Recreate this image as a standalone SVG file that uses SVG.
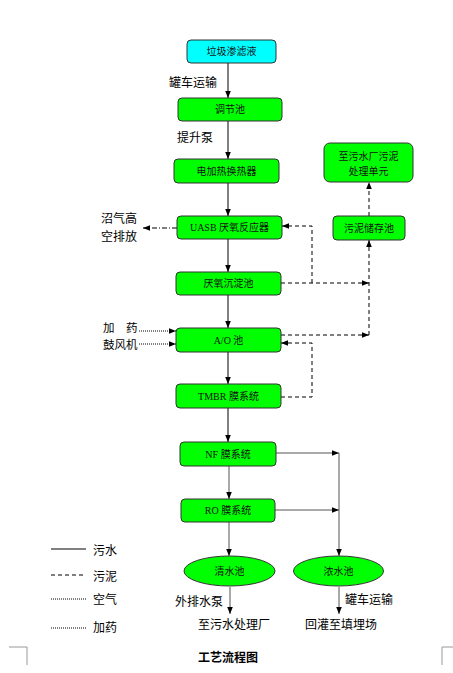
<svg xmlns="http://www.w3.org/2000/svg" width="453" height="673" viewBox="0 0 453 673">
<style>
.box{fill:#00FF00;stroke:#333;stroke-width:1}
.cy{fill:#00FFFF;stroke:#333;stroke-width:1}
.bt{font-family:"Liberation Serif","Noto Sans CJK SC",serif;font-size:10px;fill:#111;text-anchor:middle}
.lb{font-family:"Noto Sans CJK SC","Liberation Sans",sans-serif;font-size:12px;fill:#000}
.sm{font-size:11.5px}
.ttl{font-family:"Noto Sans CJK SC","Liberation Sans",sans-serif;font-size:12px;font-weight:bold;fill:#000}
.s{fill:none;stroke:#000;stroke-width:1}
.g{fill:none;stroke:#555;stroke-width:1}
.d{fill:none;stroke:#000;stroke-width:1;stroke-dasharray:4,3}
.dd{fill:none;stroke:#000;stroke-width:1;stroke-dasharray:5,2,1,2}
.dt{fill:none;stroke:#000;stroke-width:1;stroke-dasharray:1,1}
.corner{fill:none;stroke:#999;stroke-width:1}
</style>
<defs>
<marker id="a" viewBox="0 0 10 10" refX="10" refY="5" markerWidth="7" markerHeight="7" orient="auto" markerUnits="userSpaceOnUse">
<path d="M0,1 L10,5 L0,9 z" fill="#000"/>
</marker>
</defs>
<g id="connectors">
<path class="s" d="M228,63 V98" marker-end="url(#a)"/>
<path class="s" d="M228,121 V159" marker-end="url(#a)"/>
<path class="s" d="M228,183 V216" marker-end="url(#a)"/>
<path class="s" d="M228,239 V272" marker-end="url(#a)"/>
<path class="s" d="M228,295 V328" marker-end="url(#a)"/>
<path class="s" d="M228,352 V384" marker-end="url(#a)"/>
<path class="s" d="M228,408 V442" marker-end="url(#a)"/>
<path class="g" d="M229,466 V499" marker-end="url(#a)"/>
<path class="g" d="M229,522 V556" marker-end="url(#a)"/>
<path class="g" d="M230,587 V614" marker-end="url(#a)"/>
<path class="g" d="M339,587 V614" marker-end="url(#a)"/>
<path class="g" d="M276,453 H339" marker-end="url(#a)"/>
<path class="g" d="M275,510 H339" marker-end="url(#a)"/>
<path class="g" d="M339,453 V556" marker-end="url(#a)"/>
<path class="d" d="M281,283 H369" marker-end="url(#a)"/>
<path class="d" d="M312,283 V226 H282" marker-end="url(#a)"/>
<path class="d" d="M281,335 H369" marker-end="url(#a)"/>
<path class="d" d="M281,397 H312 V343 H281" marker-end="url(#a)"/>
<path class="d" d="M369,335 V240" marker-end="url(#a)"/>
<path class="d" d="M369,216 V182" marker-end="url(#a)"/>
<path class="dd" d="M177,228 H143" marker-end="url(#a)"/>
<path class="dt" d="M139,331 H176" marker-end="url(#a)"/>
<path class="dt" d="M139,344 H176" marker-end="url(#a)"/>
</g>
<g id="n1"><rect class="cy" x="187" y="40" width="89" height="23" rx="4"/><text class="bt" x="231.5" y="55">垃圾渗滤液</text></g>
<g id="n2"><rect class="box" x="178" y="98" width="104" height="23" rx="4"/><text class="bt" x="230" y="113">调节池</text></g>
<g id="n3"><rect class="box" x="174" y="159" width="105" height="24" rx="4"/><text class="bt" x="226.5" y="175">电加热换热器</text></g>
<g id="n4"><rect class="box" x="177" y="216" width="105" height="23" rx="4"/><text class="bt" x="229.5" y="231">UASB 厌氧反应器</text></g>
<g id="n5"><rect class="box" x="176" y="272" width="105" height="23" rx="4"/><text class="bt" x="228.5" y="287">厌氧沉淀池</text></g>
<g id="n6"><rect class="box" x="176" y="328" width="105" height="24" rx="4"/><text class="bt" x="228.5" y="344">A/O 池</text></g>
<g id="n7"><rect class="box" x="176" y="384" width="105" height="24" rx="4"/><text class="bt" x="228.5" y="400">TMBR 膜系统</text></g>
<g id="n8"><rect class="box" x="180" y="442" width="96" height="24" rx="4"/><text class="bt" x="228" y="458">NF 膜系统</text></g>
<g id="n9"><rect class="box" x="181" y="499" width="94" height="23" rx="4"/><text class="bt" x="228" y="514">RO 膜系统</text></g>
<g id="n10"><rect class="box" x="324" y="143" width="89" height="39" rx="6"/><text class="bt" x="368.5" y="160">至污水厂污泥</text><text class="bt" x="368.5" y="175">处理单元</text></g>
<g id="n11"><rect class="box" x="333" y="216" width="72" height="24" rx="4"/><text class="bt" x="369" y="232">污泥储存池</text></g>
<g id="n12"><ellipse class="box" cx="229.5" cy="571" rx="45.5" ry="15"/><text class="bt" x="229.5" y="575">清水池</text></g>
<g id="n13"><ellipse class="box" cx="338.5" cy="571" rx="45" ry="15"/><text class="bt" x="338.5" y="575">浓水池</text></g>
<g id="labels">
<text class="lb" x="169" y="87">罐车运输</text>
<text class="lb" x="177" y="142">提升泵</text>
<text class="lb" x="101" y="223">沼气高</text>
<text class="lb" x="101" y="240.5">空排放</text>
<text class="lb sm" x="103" y="332">加　药</text>
<text class="lb sm" x="103" y="348.8">鼓风机</text>
<text class="lb" x="175" y="606">外排水泵</text>
<text class="lb" x="345" y="604">罐车运输</text>
<text class="lb" x="198" y="629">至污水处理厂</text>
<text class="lb" x="305" y="629">回灌至填埋场</text>
<text class="ttl" x="198" y="662">工艺流程图</text>
</g>
<g id="legend">
<path class="s" d="M51,549 H86"/>
<path class="d" d="M51,575 H86" stroke-dasharray="3,2"/>
<path class="dt" d="M51,599 H86"/>
<path class="dt" d="M51,628 H86"/>
<text class="lb" x="93" y="555">污水</text>
<text class="lb" x="93" y="581">污泥</text>
<text class="lb" x="93" y="604">空气</text>
<text class="lb" x="93" y="632">加药</text>
</g>
<path class="corner" d="M9,647 H27 V665"/>
<path class="corner" d="M442,665 V647 H453"/>
</svg>
